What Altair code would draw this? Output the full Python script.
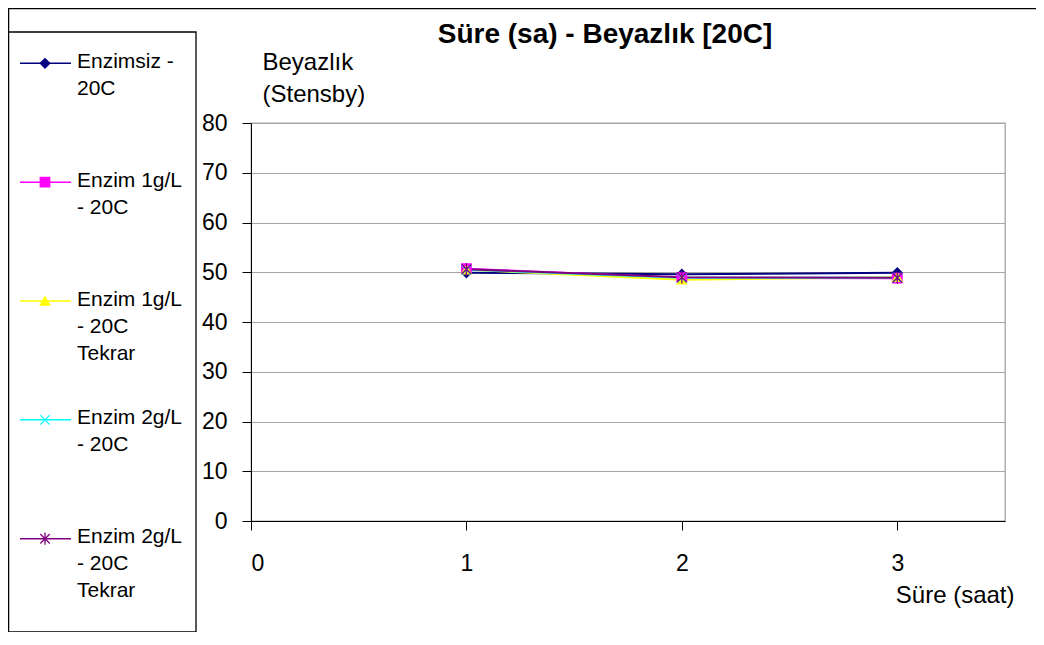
import altair as alt
import pandas as pd

# ---- data ----
sure = [1, 2, 3]
series_names = [
    "Enzimsiz - 20C",
    "Enzim 1g/L - 20C",
    "Enzim 1g/L - 20C Tekrar",
    "Enzim 2g/L - 20C",
    "Enzim 2g/L - 20C Tekrar",
]
legend_labels = [
    "Enzimsiz -\n20C",
    "Enzim 1g/L\n- 20C",
    "Enzim 1g/L\n- 20C\nTekrar",
    "Enzim 2g/L\n- 20C",
    "Enzim 2g/L\n- 20C\nTekrar",
]
enzimsiz = [49.9, 49.6, 49.9]
enzim1 = [50.7, 48.9, 48.8]
enzim1_tekrar = [50.5, 48.5, 49.0]
enzim2 = [50.5, 48.9, 48.9]
enzim2_tekrar = [50.6, 49.0, 48.9]
x_ticks = [0, 1, 2, 3]
y_ticks = [0, 10, 20, 30, 40, 50, 60, 70, 80]
title_text = "Süre (sa) - Beyazlık [20C]"

# ---- styles ----
colors = ["#000080", "#FF00FF", "#FFFF00", "#00FFFF", "#800080"]
shapes = [
    "diamond",
    "square",
    "triangle-up",
    "M-1,-1L1,1M-1,1L1,-1",
    "M-1,-1L1,1M-1,1L1,-1M0,-1.3L0,1.3",
]
FONT = "Liberation Sans"

all_vals = [enzimsiz, enzim1, enzim1_tekrar, enzim2, enzim2_tekrar]
rows = []
for name, vals in zip(series_names, all_vals):
    for xv, yv in zip(sure, vals):
        rows.append({"Süre": xv, "Beyazlık": yv, "Seri": name})
df = pd.DataFrame(rows)
leg_df = pd.DataFrame({"Seri": series_names, "Etiket": legend_labels})

col_scale = alt.Scale(domain=series_names, range=colors)
shape_scale = alt.Scale(domain=series_names, range=shapes)

x_scale = alt.Scale(domain=[0, 3.5], nice=False, zero=False)
y_scale = alt.Scale(domain=[0, 80], nice=False)

x_axis = alt.Axis(
    values=x_ticks, format="d", grid=False,
    labelFont=FONT, labelFontSize=23, labelColor="black", labelPadding=22,
    tickColor="black", tickSize=9, domainColor="black",
    title="Süre (saat)", titleFont=FONT, titleFontSize=24, titleFontWeight="normal",
    titleColor="black", titleX=763, titleY=81, titleAlign="right",
    titleBaseline="alphabetic", titleAnchor="end",
)
y_axis = alt.Axis(
    values=y_ticks, grid=True, gridColor="#a6a6a6",
    labelFont=FONT, labelFontSize=23, labelColor="black", labelPadding=15,
    tickColor="black", tickSize=9, domainColor="black",
    title=["Beyazlık", "(Stensby)"], titleFont=FONT, titleFontSize=24,
    titleFontWeight="normal", titleColor="black", titleAngle=0,
    titleX=11, titleY=-54, titleAlign="left", titleBaseline="alphabetic",
    titleLineHeight=32,
)

base = alt.Chart(df).encode(
    x=alt.X("Süre:Q", scale=x_scale, axis=x_axis),
    y=alt.Y("Beyazlık:Q", scale=y_scale, axis=y_axis),
)
lines = base.mark_line(strokeWidth=2).encode(
    color=alt.Color("Seri:N", scale=col_scale, legend=None),
    order=alt.Order("Süre:Q"),
)
pts = base.mark_point(filled=True, size=90, strokeWidth=1.3, opacity=1).encode(
    fill=alt.Fill("Seri:N", scale=col_scale, legend=None),
    stroke=alt.Stroke("Seri:N", scale=col_scale, legend=None),
    shape=alt.Shape("Seri:N", scale=shape_scale, legend=None),
)
main = alt.layer(lines, pts)

# ---- legend panel (own point scale for rows) ----
leg_y = alt.Y(
    "Seri:N",
    scale=alt.Scale(type="point", domain=series_names, range=[-59.7, 415.7], padding=0),
    axis=None,
)
leg_rule = alt.Chart(leg_df).mark_rule(strokeWidth=1.5).encode(
    x=alt.value(-231), x2=alt.value(-180), y=leg_y,
    color=alt.Color("Seri:N", scale=col_scale, legend=None),
)
leg_pt = alt.Chart(leg_df).mark_point(filled=True, size=90, strokeWidth=1.3, opacity=1).encode(
    x=alt.value(-206), y=leg_y,
    fill=alt.Fill("Seri:N", scale=col_scale, legend=None),
    stroke=alt.Stroke("Seri:N", scale=col_scale, legend=None),
    shape=alt.Shape("Seri:N", scale=shape_scale, legend=None),
)
leg_txt = alt.Chart(leg_df).mark_text(
    align="left", baseline="alphabetic", dy=4.5, lineBreak="\n",
    font=FONT, fontSize=21, lineHeight=27, color="black",
).encode(x=alt.value(-174), y=leg_y, text="Etiket:N")
legend = alt.layer(leg_rule, leg_pt, leg_txt)

one = pd.DataFrame({"t": [title_text]})
leg_box = alt.Chart(one).mark_rect(filled=False, stroke="black", strokeWidth=1.3).encode(
    x=alt.value(-243), x2=alt.value(-55), y=alt.value(-91), y2=alt.value(509),
)
frame = alt.Chart(one).mark_rect(filled=False, stroke="black", strokeWidth=1.5).encode(
    x=alt.value(-242.5), x2=alt.value(820), y=alt.value(-114.5), y2=alt.value(560),
)
title = alt.Chart(one).mark_text(
    align="center", baseline="alphabetic", font=FONT, fontSize=28,
    fontWeight="bold", color="black",
).encode(x=alt.value(354), y=alt.value(-80), text="t:N")

chart = (
    alt.layer(frame, leg_box, main, legend, title)
    .resolve_scale(y="independent")
    .properties(
        width=754, height=398,
        autosize=alt.AutoSizeParams(type="none"),
        padding={"left": 243, "top": 115, "right": 31, "bottom": 111},
        background="white",
    )
    .configure_view(stroke="#a6a6a6", strokeWidth=1.3)
)

chart.save("out.html", embed_options={"renderer": "svg", "actions": False})
